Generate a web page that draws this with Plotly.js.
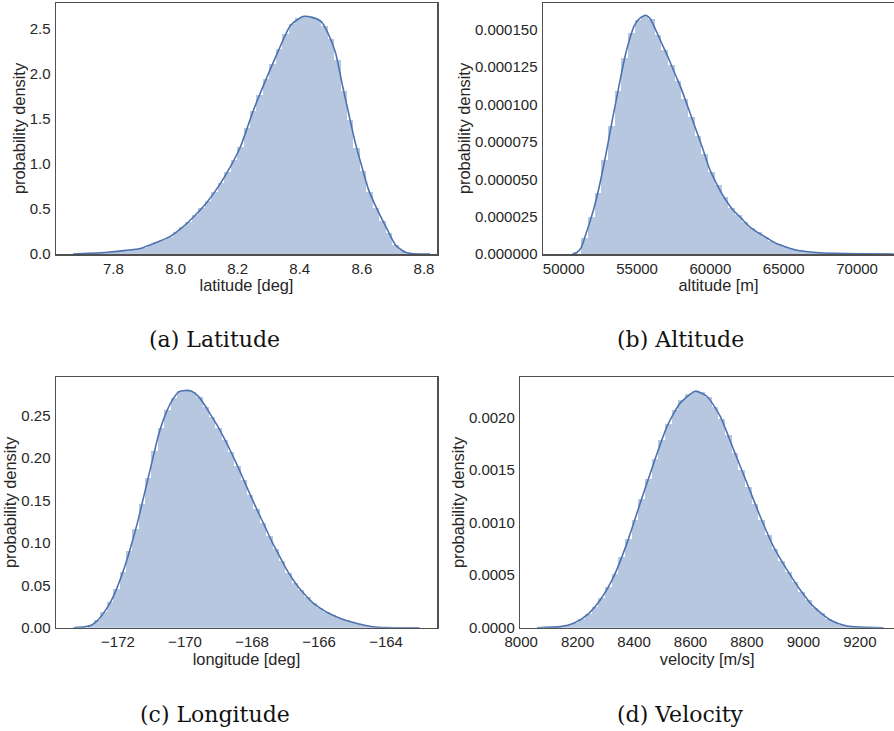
<!DOCTYPE html>
<html>
<head>
<meta charset="utf-8">
<script src="https://cdn.plot.ly/plotly-3.0.1.min.js"></script>
<style>html,body{margin:0;padding:0;background:#fff;}#chart{width:894px;height:731px;}</style>
</head>
<body>
<div id="chart"></div>
<script>
// ---------- (a) latitude ----------
const latCenters = [7.730,7.751,7.772,7.793,7.814,7.834,7.855,7.876,7.897,7.918,7.938,7.959,7.980,8.001,8.022,8.042,8.063,8.084,8.105,8.126,8.146,8.167,8.188,8.209,8.230,8.250,8.271,8.292,8.313,8.334,8.354,8.375,8.396,8.417,8.438,8.458,8.479,8.500,8.521,8.542,8.562,8.583,8.604,8.625,8.646,8.666,8.687,8.708,8.729,8.750];
const latHist = [0.010,0.014,0.018,0.022,0.028,0.036,0.046,0.058,0.072,0.10,0.13,0.16,0.19,0.24,0.30,0.36,0.43,0.51,0.59,0.69,0.79,0.91,1.04,1.19,1.40,1.59,1.77,1.95,2.11,2.28,2.44,2.56,2.62,2.64,2.63,2.60,2.53,2.39,2.16,1.81,1.49,1.18,0.92,0.69,0.51,0.37,0.23,0.10,0.04,0.012];
const latKdeX = [7.67,7.72,7.78,7.84,7.89,7.94,7.98,8.02,8.06,8.10,8.14,8.18,8.21,8.25,8.29,8.33,8.37,8.41,8.44,8.47,8.49,8.515,8.536,8.557,8.579,8.60,8.622,8.65,8.682,8.708,8.736,8.76,8.80,8.82];
const latKdeY = [0.000,0.008,0.020,0.040,0.065,0.13,0.19,0.29,0.42,0.57,0.76,0.99,1.20,1.59,1.93,2.25,2.54,2.64,2.63,2.58,2.46,2.24,1.90,1.57,1.235,0.97,0.71,0.49,0.27,0.10,0.026,0.006,0.000,0.000];

// ---------- (b) altitude ----------
const altCenters = [51428,51883,52338,52793,53248,53703,54158,54613,55068,55523,55978,56433,56888,57343,57798,58253,58708,59163,59618,60073,60528,60983,61438,61893,62348,62803,63258,63713,64168,64623,65078,65533,65988,66443,66898,67353,67808,68263,68718,69173];
const altHist = [1.1e-5,2.5e-5,4.1e-5,6.3e-5,8.6e-5,1.09e-4,1.31e-4,1.48e-4,1.565e-4,1.595e-4,1.57e-4,1.465e-4,1.365e-4,1.265e-4,1.16e-4,1.04e-4,9.2e-5,7.9e-5,6.7e-5,5.5e-5,4.6e-5,3.8e-5,3.1e-5,2.6e-5,2.15e-5,1.75e-5,1.45e-5,1.15e-5,9.0e-6,6.5e-6,4.9e-6,3.5e-6,2.5e-6,1.8e-6,1.3e-6,0.9e-6,0.6e-6,0.5e-6,0.3e-6,0.2e-6];
const altKdeX = [50600,50900,51200,51500,51800,52100,52400,52700,53000,53300,53600,53900,54200,54500,54800,55100,55400,55650,55900,56200,56500,56800,57100,57400,57700,58000,58300,58700,59100,59500,59900,60400,60900,61500,62100,62700,63300,63900,64500,65100,65700,66400,67200,68500,70000,72500];
const altKdeY = [0,1.0e-6,4.5e-6,1.3e-5,2.2e-5,3.2e-5,4.4e-5,5.8e-5,7.3e-5,8.9e-5,1.04e-4,1.19e-4,1.33e-4,1.44e-4,1.525e-4,1.57e-4,1.592e-4,1.597e-4,1.575e-4,1.515e-4,1.45e-4,1.385e-4,1.32e-4,1.25e-4,1.18e-4,1.11e-4,1.03e-4,9.2e-5,8.1e-5,7.0e-5,5.8e-5,4.75e-5,3.85e-5,3.0e-5,2.4e-5,1.8e-5,1.4e-5,1.05e-5,7.0e-6,4.8e-6,3.0e-6,1.8e-6,1.0e-6,0.4e-6,0.1e-6,0];

// ---------- (c) longitude ----------
const lonCenters = [-172.805,-172.615,-172.425,-172.235,-172.045,-171.855,-171.665,-171.475,-171.285,-171.095,-170.905,-170.715,-170.525,-170.335,-170.145,-169.955,-169.765,-169.575,-169.385,-169.195,-169.005,-168.815,-168.625,-168.435,-168.245,-168.055,-167.865,-167.675,-167.485,-167.295,-167.105,-166.915,-166.725,-166.535,-166.345,-166.155,-165.965,-165.775,-165.585,-165.395,-165.205,-165.015,-164.825,-164.635,-164.445,-164.255,-164.065,-163.875,-163.685,-163.495];
const lonHist = [0.003,0.009,0.018,0.030,0.046,0.066,0.090,0.116,0.146,0.177,0.209,0.236,0.257,0.271,0.279,0.280,0.278,0.272,0.261,0.249,0.236,0.222,0.207,0.191,0.174,0.157,0.140,0.124,0.108,0.093,0.079,0.065,0.053,0.044,0.036,0.029,0.023,0.019,0.015,0.012,0.009,0.0067,0.0045,0.003,0.0015,0.0008,0.0003,0.0002,0.0001,0.0001];
const lonKdeX = [-173.33,-173.0,-172.8,-172.6,-172.4,-172.2,-172.0,-171.8,-171.6,-171.4,-171.2,-171.0,-170.8,-170.6,-170.4,-170.2,-170.0,-169.8,-169.6,-169.4,-169.2,-169.0,-168.8,-168.6,-168.4,-168.2,-168.0,-167.8,-167.6,-167.4,-167.2,-167.0,-166.8,-166.6,-166.4,-166.2,-166.0,-165.8,-165.6,-165.3,-165.0,-164.7,-164.4,-164.0,-163.0];
const lonKdeY = [0,0.001,0.003,0.009,0.019,0.032,0.050,0.072,0.098,0.127,0.160,0.193,0.226,0.250,0.267,0.278,0.280,0.279,0.273,0.262,0.249,0.236,0.221,0.205,0.188,0.170,0.152,0.135,0.118,0.101,0.086,0.071,0.058,0.047,0.038,0.030,0.024,0.019,0.015,0.010,0.0065,0.0035,0.0012,0.0002,0];

// ---------- (d) velocity ----------
const velCenters = [8096.8,8120.4,8144.0,8167.6,8191.2,8214.8,8238.4,8262.0,8285.6,8309.2,8332.8,8356.4,8380.0,8403.6,8427.2,8450.8,8474.4,8498.0,8521.6,8545.2,8568.8,8592.4,8616.0,8639.6,8663.2,8686.8,8710.4,8734.0,8757.6,8781.2,8804.8,8828.4,8852.0,8875.6,8899.2,8922.8,8946.4,8970.0,8993.6,9017.2,9040.8,9064.4,9088.0,9111.6,9135.2,9158.8,9182.4,9206.0,9229.6,9253.2];
const velHist = [0.000003,0.000006,0.000012,0.000026,0.000048,0.000083,0.000132,0.000200,0.000285,0.000390,0.000510,0.000670,0.000840,0.001020,0.001225,0.001410,0.001600,0.001780,0.001940,0.002070,0.002160,0.002220,0.002250,0.002240,0.002190,0.002100,0.001985,0.001830,0.001660,0.001500,0.001340,0.001180,0.001025,0.000880,0.000745,0.000630,0.000530,0.000430,0.000340,0.000265,0.000190,0.000135,0.000085,0.000055,0.000030,0.000016,0.000008,0.000004,0.000002,0.000001];
const velKdeX = [8056,8139,8186,8233,8280,8328,8375,8422,8470,8517,8564,8617,8658,8705,8753,8800,8847,8894,8942,8989,9036,9095,9154,9284];
const velKdeY = [0,0.00001,0.000042,0.00012,0.000264,0.000486,0.000804,0.001185,0.001566,0.001914,0.002137,0.002248,0.0022,0.00201,0.00169,0.001375,0.001057,0.000771,0.00055,0.000359,0.0002,0.000073,0.000016,0];

const xLabels = ['latitude [deg]','altitude [m]','longitude [deg]','velocity [m/s]'];
const captions = ['(a) Latitude','(b) Altitude','(c) Longitude','(d) Velocity'];

// ---------- styling ----------
const BLUE = '#4C72B0';
const FILL = '#B7C7DF';   // seaborn deep blue at alpha 0.4 on white
const TXT = '#262626';
const SPINE = '#505050';
const SANS = 'Liberation Sans, Arial, sans-serif';

function hist(x, y, w, ax) {
  return {type:'bar', x:x, y:y, width:w, xaxis:'x'+ax, yaxis:'y'+ax,
          marker:{color:FILL, line:{width:0}}, hoverinfo:'skip', showlegend:false};
}
function kde(x, y, ax) {
  return {type:'scatter', mode:'lines', x:x, y:y, xaxis:'x'+ax, yaxis:'y'+ax,
          line:{color:BLUE, width:1.6, shape:'spline', smoothing:0.6}, hoverinfo:'skip', showlegend:false};
}

const traces = [
  hist(latCenters, latHist, 0.0216, ''), kde(latKdeX, latKdeY, ''),
  hist(altCenters, altHist, 462, '2'), kde(altKdeX, altKdeY, '2'),
  hist(lonCenters, lonHist, 0.195, '3'), kde(lonKdeX, lonKdeY, '3'),
  hist(velCenters, velHist, 24.2, '4'), kde(velKdeX, velKdeY, '4')
];

const W = 894, H = 731;
function xdom(l, r) { return [l / W, Math.min(r / W, 1)]; }
function ydom(top, bot) { return [1 - bot / H, 1 - top / H]; }

function xaxis(dom, anchor, range, dtick, fmt, title) {
  return {domain:dom, anchor:anchor, range:range, dtick:dtick, tick0:0, tickmode:'linear', tickformat:fmt,
          showgrid:false, zeroline:false, showline:true, mirror:true, linecolor:SPINE, linewidth:1.5,
          ticks:'', ticklabelstandoff:0, tickfont:{family:SANS, size:15, color:TXT},
          title:{text:title, font:{family:SANS, size:16.4, color:TXT}, standoff:0}, fixedrange:true};
}
function yaxis(dom, anchor, range, dtick, fmt) {
  return {domain:dom, anchor:anchor, range:range, dtick:dtick, tick0:0, tickmode:'linear', tickformat:fmt,
          showgrid:false, zeroline:false, showline:true, mirror:true, linecolor:SPINE, linewidth:1.5,
          ticks:'', ticklabelstandoff:1, tickfont:{family:SANS, size:15, color:TXT},
          title:{text:'probability density', font:{family:SANS, size:16.4, color:TXT}, standoff:0}, fixedrange:true};
}

const dA = xdom(56, 437), dB = xdom(543, 895), dC = xdom(56, 437), dD = xdom(520.3, 895);
const yTop = ydom(3, 254), yBot = ydom(377.3, 627.7);

const layout = {
  width:W, height:H, margin:{l:0, r:0, t:0, b:0},
  paper_bgcolor:'#fff', plot_bgcolor:'#fff', bargap:0, barmode:'overlay', showlegend:false,
  xaxis:  xaxis(dA, 'y',  [7.615, 8.842], 0.2, '.1f', xLabels[0]),
  yaxis:  yaxis(yTop, 'x', [0, 2.79], 0.5, '.1f'),
  xaxis2: xaxis(dB, 'y2', [48588, 72519], 5000, 'd', xLabels[1]),
  yaxis2: yaxis(yTop, 'x2', [0, 0.000168], 0.000025, '.6f'),
  xaxis3: xaxis(dC, 'y3', [-173.85, -162.48], 2, 'd', xLabels[2]),
  yaxis3: yaxis(yBot, 'x3', [0, 0.2955], 0.05, '.2f'),
  xaxis4: xaxis(dD, 'y4', [7997, 9321], 200, 'd', xLabels[3]),
  yaxis4: yaxis(yBot, 'x4', [0, 0.00238], 0.0005, '.4f'),
  annotations: [
    {text:captions[0], x:214/W, y:1-340/H},
    {text:captions[1], x:680/W, y:1-340/H},
    {text:captions[2], x:215/W, y:1-714/H},
    {text:captions[3], x:680/W, y:1-714/H}
  ].map(a => Object.assign(a, {xref:'paper', yref:'paper', xanchor:'center', yanchor:'middle', showarrow:false,
      font:{family:'DejaVu Serif, Liberation Serif, serif', size:22, color:'#111'}}))
};

Plotly.newPlot('chart', traces, layout, {staticPlot:true, displayModeBar:false});
</script>
</body>
</html>
